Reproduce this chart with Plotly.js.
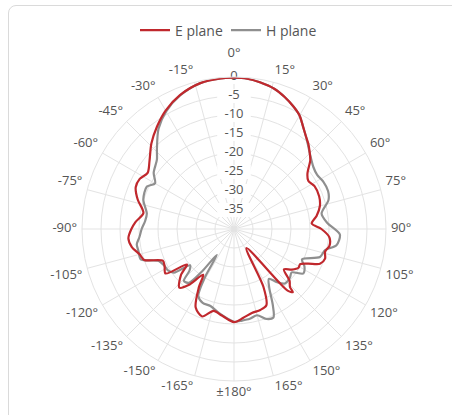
<!DOCTYPE html>
<html>
<head>
<meta charset="utf-8">
<script src="https://cdn.plot.ly/plotly-3.0.1.min.js"></script>
<style>
  html, body { margin: 0; padding: 0; background: #ffffff; overflow: hidden; }
  #frame { position: absolute; left: 8px; top: 5px; width: 470px; height: 430px;
           border: 1px solid #dadada; border-radius: 8px; box-sizing: border-box; }
  #chart { position: absolute; left: 0; top: 0; width: 452px; height: 415px; }
</style>
</head>
<body>
<div id="frame"></div>
<div id="chart"></div>
<script>
// E plane: angle (deg, clockwise from top) and level (dB)
const eTheta = [-180,-172,-166,-160,-154,-149,-146,-141,-137,-131,-127,-123,-118,-114,-109,-105,-100,-95,-90,-86,-80,-73,-67,-62,-57,-51,-44,-37,-30,-22,-13,-5,0,5,10,16,21,26,30,34,38,41,45,48,53,57,62,69,75,81,86,90,95,100,104,108,112,115,118,121,125,129,133,136,137,139,147,153,157,162,168,174,180];
const eLevel = [-15.5,-17.0,-17.8,-15.5,-17.0,-22,-25.5,-21,-18.9,-21.5,-24.5,-18.5,-19.3,-19.5,-15.0,-14.3,-12.7,-12.1,-13.0,-14.0,-15.8,-13.5,-11.9,-11.9,-12.9,-11.4,-8.7,-6.3,-4.0,-2.0,-0.6,-0.2,-0.2,-0.3,-0.8,-1.6,-2.8,-4.2,-5.5,-7.5,-9.2,-10.2,-11.8,-13.0,-15.8,-16.7,-16.0,-16.0,-16.6,-18.0,-19.5,-17.0,-14.8,-14.5,-15.3,-14.8,-15.6,-18.5,-20.3,-20.2,-21.4,-23.1,-20,-18.8,-17.3,-18.5,-34,-23,-18.2,-17.6,-17.4,-16.5,-15.5];

// H plane
const hTheta = [-180,-170,-163,-157,-152,-149,-146.5,-143,-140,-136,-133,-129.5,-126,-122,-118,-113,-108,-103,-99,-95,-90,-85,-80,-72,-64,-60,-55,-48,-44,-37,-30,-22,-13,-5,0,5,10,16,21,26,30,34,38,41,45,52,57,62,68,73,80,86,93,99,103,108,114,118,122.6,127,131,137,141,145,149,153,156,160,165,170,175,180];
const hLevel = [-15.6,-17.5,-18.8,-18.9,-20,-25,-31.8,-26,-21.5,-21,-24,-25,-20.5,-19.5,-19.3,-18.5,-14.2,-14.2,-14.1,-15.0,-15.7,-16.5,-16.7,-14.9,-14.5,-16.0,-14.2,-12.7,-10.8,-7.0,-4.3,-2.1,-0.6,-0.2,-0.2,-0.3,-0.8,-1.6,-2.8,-4.2,-5.5,-7.5,-9.2,-10.4,-11.8,-13.5,-13.9,-13.4,-13.3,-14.0,-16.6,-15.5,-12.1,-12.7,-15.4,-16.2,-20.4,-19,-18.3,-21.0,-20.5,-20.4,-22,-24,-22,-17.5,-14.5,-14.8,-16.5,-16,-15.8,-15.6];

const angleTicks = [0,15,30,45,60,75,90,105,120,135,150,165,180,-165,-150,-135,-120,-105,-90,-75,-60,-45,-30,-15];
const angleLabels = ['0°','15°','30°','45°','60°','75°','90°','105°','120°','135°','150°','165°','±180°','-165°','-150°','-135°','-120°','-105°','-90°','-75°','-60°','-45°','-30°','-15°'];
const radialTicks = [0,-5,-10,-15,-20,-25,-30,-35];
const radialLabels = ['0','-5','-10','-15','-20','-25','-30','-35'];

const seriesNames = ['E plane','H plane'];
const seriesColors = ['#c0282d','#8f8f8f'];

const font = 'Open Sans, sans-serif';
const textColor = '#555555';
const gridColor = '#e3e3e3';

// geometry (px): chart centre and radii
const W = 452, H = 415, CX = 234, CY = 229, R = 152, RL = 185;
const dbMin = -40, dbMax = 0;
const pxPerDb = R / (dbMax - dbMin);
function dom(c, r, size, flip) {
  if (!flip) return [(c - r) / size, (c + r) / size];
  return [(size - (c + r)) / size, (size - (c - r)) / size];
}

// angular labels placed just outside the outer ring (in dB units beyond 0)
const labelPad = 1.3;       // ~5 px
const topLabelPad = 4.3;    // extra room above the top label (clears the "0" tick)
function labelPosition(a) {
  if (a === 0) return 'top center';
  if (a === 180) return 'bottom center';
  const side = a > 0 ? 'right' : 'left';
  const abs = Math.abs(a);
  if (abs < 90) return 'top ' + side;
  if (abs === 90) return 'middle ' + side;
  return 'bottom ' + side;
}

const traces = [
  {
    type: 'scatterpolar', mode: 'markers+text',
    r: radialTicks, theta: radialTicks.map(() => 0),
    text: radialLabels, textposition: 'middle center',
    textfont: {family: font, size: 13, color: textColor},
    marker: {symbol: 'line-ew', size: 24, color: '#ffffff', line: {color: '#ffffff', width: 14}},
    showlegend: false, hoverinfo: 'skip', cliponaxis: false
  },
  {
    type: 'scatterpolar', mode: 'lines', name: seriesNames[1],
    r: hLevel, theta: hTheta,
    line: {color: seriesColors[1], width: 2.2, shape: 'spline', smoothing: 0.8}
  },
  {
    type: 'scatterpolar', mode: 'lines', name: seriesNames[0],
    r: eLevel, theta: eTheta,
    line: {color: seriesColors[0], width: 2.2, shape: 'spline', smoothing: 0.8}
  },
  {
    type: 'scatterpolar', subplot: 'polar2', mode: 'text',
    r: angleTicks.map(a => a === 0 ? topLabelPad : labelPad),
    theta: angleTicks,
    text: angleLabels,
    textposition: angleTicks.map(labelPosition),
    textfont: {family: font, size: 13, color: textColor},
    showlegend: false, hoverinfo: 'skip', cliponaxis: false
  }
];

const layout = {
  width: W, height: H,
  margin: {l: 0, r: 0, t: 0, b: 0, pad: 0},
  paper_bgcolor: 'rgba(0,0,0,0)',
  font: {family: font, size: 13, color: textColor},
  showlegend: true,
  legend: {
    orientation: 'h', xref: 'paper', yref: 'paper',
    x: 0.50, xanchor: 'center', y: 0.965, yanchor: 'top',
    entrywidth: 46, entrywidthmode: 'pixels',
    font: {family: font, size: 14, color: textColor},
    traceorder: 'reversed'
  },
  polar: {
    domain: {x: dom(CX, R, W, false), y: dom(CY, R, H, true)},
    bgcolor: 'rgba(0,0,0,0)',
    angularaxis: {
      rotation: 90, direction: 'clockwise',
      tickmode: 'array', tickvals: angleTicks.map(a => (a + 360) % 360),
      showticklabels: false,
      ticks: '', showline: true, linecolor: gridColor, linewidth: 1,
      gridcolor: gridColor, gridwidth: 1
    },
    radialaxis: {
      range: [dbMin, dbMax], tickmode: 'array', tickvals: radialTicks,
      showticklabels: false, ticks: '', showline: false,
      gridcolor: gridColor, gridwidth: 1
    }
  },
  // invisible companion axis, same centre and dB scale, larger radius: carries the angle labels
  polar2: {
    domain: {x: dom(CX, RL, W, false), y: dom(CY, RL, H, true)},
    bgcolor: 'rgba(0,0,0,0)',
    angularaxis: {
      rotation: 90, direction: 'clockwise', showgrid: false, showline: false,
      showticklabels: false, ticks: ''
    },
    radialaxis: {
      range: [dbMin, dbMin + RL / pxPerDb], visible: false, showgrid: false
    }
  }
};

Plotly.newPlot('chart', traces, layout, {displayModeBar: false, staticPlot: true});
</script>
</body>
</html>
